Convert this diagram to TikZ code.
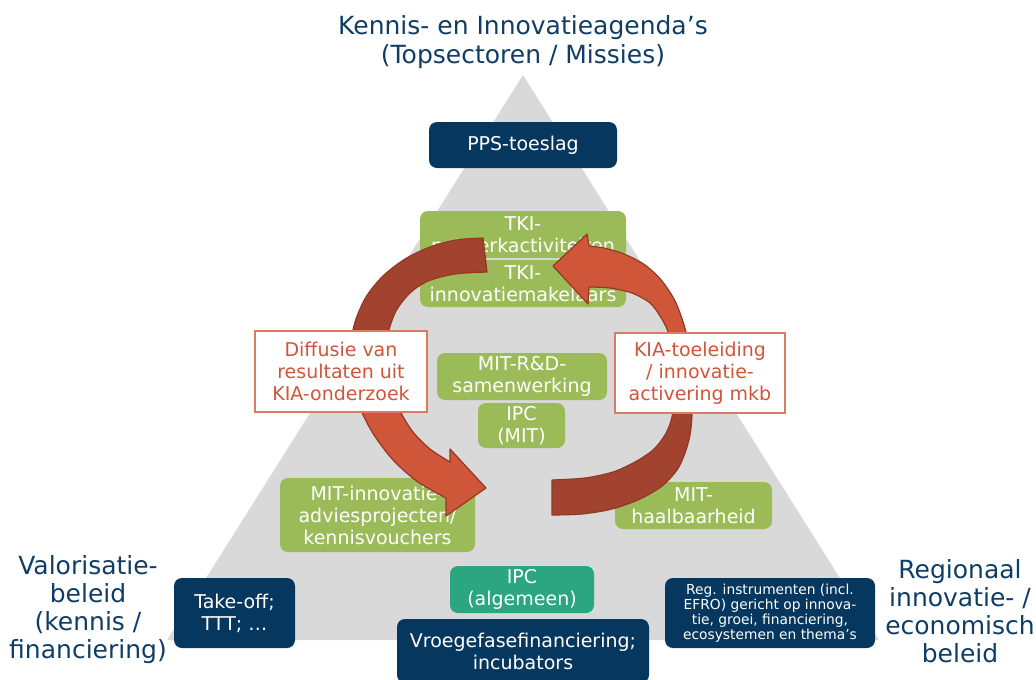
\documentclass[tikz,border=0pt]{standalone}
\usepackage{fontspec}
\setmainfont{DejaVu Sans}
\definecolor{tri}{HTML}{D9D9D9}
\definecolor{boxnavy}{HTML}{06375F}
\definecolor{grn}{HTML}{9BBB59}
\definecolor{ipcteal}{HTML}{2BA680}
\definecolor{ttl}{HTML}{0F3D66}
\definecolor{redtxt}{HTML}{D0563A}
\definecolor{redbrd}{HTML}{DC7A62}
\definecolor{arrlight}{HTML}{CF5638}
\definecolor{arrdark}{HTML}{A2432F}
\definecolor{arrline}{HTML}{943826}
\pgfdeclareverticalshading{larrshade}{100bp}{color(0bp)=(arrlight); color(44bp)=(arrlight); color(57bp)=(arrdark); color(100bp)=(arrdark)}
\pgfdeclareverticalshading{rarrshade}{100bp}{color(0bp)=(arrdark); color(44bp)=(arrdark); color(56bp)=(arrlight); color(100bp)=(arrlight)}
\tikzset{
  boxbase/.style={rounded corners=6pt, inner sep=0pt, align=center, text=white, font=\fontsize{14.25}{16.5}\selectfont},
  grnbox/.style={boxbase, fill=grn},
  navybox/.style={boxbase, fill=boxnavy},
  tealbox/.style={boxbase, fill=ipcteal},
  redbox/.style={draw=redbrd, line width=1.1pt, fill=white, inner sep=0pt, align=center, text=redtxt, font=\fontsize{14.25}{16.5}\selectfont},
  sidelbl/.style={align=center, text=ttl, inner sep=0pt, font=\fontsize{18.75}{21}\selectfont},
  arrowshape/.style={draw=arrline, line width=0.9pt, line join=round}
}
\begin{document}
\begin{tikzpicture}[x=0.75pt,y=-0.75pt]
\useasboundingbox (0,0) rectangle (1036,679);
% triangle
\fill[tri] (523,75) -- (879,640) -- (167,640) -- cycle;
% green boxes
\node[grnbox, minimum width=154.5pt, minimum height=35.25pt] (tkinet) at (523,234.5) {TKI-\\netwerkactiviteiten};
\node[grnbox, minimum width=154.5pt, minimum height=35.25pt] (tkiinn) at (523,283.5) {TKI-\\innovatiemakelaars};
\node[grnbox, minimum width=127.5pt, minimum height=35.25pt] (mitrd) at (522,376.5) {MIT-R\&D-\\samenwerking};
\node[grnbox, minimum width=65.25pt, minimum height=33.75pt] (ipcmit) at (521.5,425.5) {IPC\\(MIT)};
\node[grnbox, minimum width=146.25pt, minimum height=55.5pt] (mitinn) at (377.5,515) {MIT-innovatie-\\adviesprojecten/\\kennisvouchers};
\node[grnbox, minimum width=117.75pt, minimum height=35.25pt] (mithaal) at (693.5,505.5) {MIT-\\haalbaarheid};
\node[tealbox, minimum width=108pt, minimum height=35.25pt] (ipcalg) at (522,589.5) {IPC\\(algemeen)};
% navy boxes
\node[navybox, minimum width=141pt, minimum height=34.5pt] (pps) at (523,145) {PPS-toeslag};
\node[navybox, minimum width=189pt, minimum height=48pt] (vroeg) at (523,651) {Vroegefasefinanciering;\\incubators};
\node[navybox, minimum width=90.75pt, minimum height=52.5pt] (takeoff) at (234.5,613) {Take-off;\\TTT; …};
\node[navybox, minimum width=157.5pt, minimum height=52.5pt, font=\fontsize{10.35}{11.25}\selectfont] (reg) at (770,613) {Reg. instrumenten (incl.\\EFRO) gericht op innova-\\tie, groei, financiering,\\ecosystemen en thema’s};
% left circular arrow
\path[arrowshape, shading=larrshade]
  plot[smooth] coordinates {(483,238) (456,240) (430,247) (405,259) (383,276) (366,297) (355,322) (350,350) (352,380) (360,408) (374,435) (394,461) (418,482) (446,498)}
  -- (446,516) -- (486,488) -- (450,449)
  -- plot[smooth] coordinates {(450,462) (430,449) (413,432) (400,411) (390,386) (386,360) (388,334) (396,311) (410,293) (428,281) (455,274) (487,272)}
  -- cycle;
% right circular arrow
\path[arrowshape, shading=rarrshade]
  plot[smooth] coordinates {(552,515) (582,514) (612,509) (640,499) (662,486) (677,470) (685,453) (690,435) (692,415) (692,390) (690,360) (686,332) (676,303) (662,281) (645,265) (624,254) (604,248) (589,246)}
  -- (587,234) -- (553,266) -- (588,304)
  -- plot[smooth] coordinates {(589,287) (610,288) (632,293) (650,303) (660,316) (668,332) (673,360) (674,390) (672,417) (665,435) (653,450) (635,462) (613,472) (585,478) (552,480)}
  -- cycle;
% white boxes
\node[redbox, minimum width=129pt, minimum height=60.75pt] (diff) at (341,371.5) {Diffusie van\\resultaten uit\\KIA-onderzoek};
\node[redbox, minimum width=127.5pt, minimum height=60pt] (kia) at (700,373) {KIA-toeleiding\\/ innovatie-\\activering mkb};
% labels
\node[sidelbl, font=\fontsize{18.75}{21.75}\selectfont] (title) at (523,42) {Kennis- en Innovatieagenda’s\\(Topsectoren / Missies)};
\node[sidelbl] (valor) at (88,610) {Valorisatie-\\beleid\\(kennis /\\financiering)};
\node[sidelbl] (regio) at (960,611) {Regionaal\\innovatie- /\\economisch\\beleid};
\end{tikzpicture}
\end{document}
